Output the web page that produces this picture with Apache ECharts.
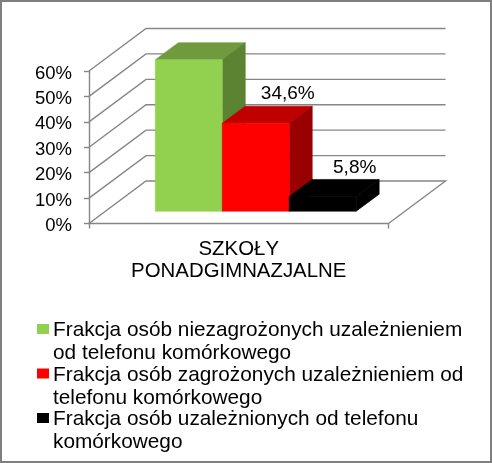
<!DOCTYPE html>
<html><head><meta charset="utf-8">
<style>html,body{margin:0;padding:0;background:#fff}#c{width:492px;height:463px}</style>
<script src="https://cdn.jsdelivr.net/npm/echarts@6/dist/echarts.min.js"></script></head>
<body><div id="c"></div>
<script>
const categories = ['SZKOŁY\nPONADGIMNAZJALNE'];
const seriesNames = [
  'Frakcja osób niezagrożonych uzależnieniem\nod telefonu komórkowego',
  'Frakcja osób zagrożonych uzależnieniem od\ntelefonu komórkowego',
  'Frakcja osób uzależnionych od telefonu\nkomórkowego'
];
const values = [59.6, 34.6, 5.8];
const valueLabels = ['', '34,6%', '5,8%'];
const ticks = [0, 10, 20, 30, 40, 50, 60];

const faces = [
  {front:'#92D050', top:'#709A3E', side:'#5B8331'},
  {front:'#FF0000', top:'#C00000', side:'#990000'},
  {front:'#000000', top:'#000000', side:'#000000'}
];
const FONT = 'Liberation Sans, Arial, sans-serif';
const AXIS = '#868686';
const WALL = [57, -42.5];
const PLANE = [17, -12.3];
const DEPTH = [23, -17];
const BAR_SHARE = 0.2235;

function wallItem(params, api) {
  const p = api.coord([0, api.value(0)]);
  const half = api.size([1, 0])[0] / 2;
  const x0 = p[0] - half, x1 = p[0] + half;
  const y = p[1];
  const pts = [[x0, y], [x0 + WALL[0], y + WALL[1]], [x1 + WALL[0], y + WALL[1]]];
  if (api.value(0) === 0) pts.push([x1, y]);
  return {type:'polyline', shape:{points:pts}, style:{stroke:AXIS, lineWidth:1.4, fill:null}, silent:true};
}

function face(points, color) {
  return {type:'polygon', shape:{points}, style:{fill:color, stroke:color, lineWidth:0.6}};
}

function barItem(idx) {
  return function (params, api) {
    const base = api.coord([0, 0]);
    const topP = api.coord([0, api.value(1)]);
    const w = api.size([1, 0])[0] * BAR_SHARE;
    const xl = base[0] + PLANE[0] + (idx - 1.5) * w;
    const xr = xl + w;
    const yb = base[1] + PLANE[1];
    const yt = topP[1] + PLANE[1];
    const dx = DEPTH[0], dy = DEPTH[1];
    const c = faces[idx];
    const children = [
      face([[xl,yt],[xr,yt],[xr+dx,yt+dy],[xl+dx,yt+dy]], c.top),
      face([[xr,yb],[xr+dx,yb+dy],[xr+dx,yt+dy],[xr,yt]], c.side),
      face([[xl,yb],[xr,yb],[xr,yt],[xl,yt]], c.front)
    ];
    if (valueLabels[idx]) {
      children.push({type:'text', style:{text:valueLabels[idx], x:(xl+xr)/2+32, y:yt-29,
        align:'center', verticalAlign:'middle', fill:'#000', font:'19px '+FONT}});
    }
    return {type:'group', children};
  };
}

const legendIcon = 'path://M0 0L0 0M0 5H12V15H0ZM0 46L0 46';
const chart = echarts.init(document.getElementById('c'), null, {renderer:'canvas'});
chart.setOption({
  animation:false,
  backgroundColor:'#fff',
  grid:{left:89, top:71, width:299.5, height:152.5, containLabel:false},
  xAxis:{type:'category', data:categories,
    axisLine:{lineStyle:{color:AXIS, width:1.4}},
    axisTick:{show:true, length:5, lineStyle:{color:AXIS, width:1.4}},
    axisLabel:{color:'#000', fontFamily:FONT, fontSize:20.4, lineHeight:22, margin:15}},
  yAxis:{type:'value', min:0, max:60, interval:10,
    axisLine:{show:true, lineStyle:{color:AXIS, width:1.4}},
    axisTick:{show:true, length:5, lineStyle:{color:AXIS, width:1.4}},
    splitLine:{show:false},
    axisLabel:{color:'#000', fontFamily:FONT, margin:17, formatter:'{t|{value}%}',
      rich:{t:{fontFamily:FONT, fontSize:18.5, color:'#000', padding:[5,0,0,0]}}}},
  legend:{orient:'vertical', left:37, top:319, itemWidth:12, itemHeight:46, itemGap:-1.5,
    itemStyle:{borderWidth:0}, selectedMode:false, padding:0,
    textStyle:{color:'#000', fontFamily:FONT, fontSize:20.8, lineHeight:23, padding:[0,0,0,-1]},
    data:seriesNames.map((name,i)=>({name, icon:legendIcon, itemStyle:{color:faces[i].front}}))},
  graphic:[{type:'rect', shape:{x:1,y:1,width:490,height:461}, style:{fill:null, stroke:'#7F7F7F', lineWidth:2}, z:100, silent:true}],
  series:[
    {type:'custom', name:'walls', coordinateSystem:'cartesian2d', renderItem:wallItem, data:ticks.map(t=>[t]), z:1, silent:true, encode:{y:0}},
    ...seriesNames.map((name,i)=>({type:'custom', name, coordinateSystem:'cartesian2d', renderItem:barItem(i),
      data:[[0, values[i]]], encode:{x:0,y:1}, itemStyle:{color:faces[i].front}, z:2+i, silent:true}))
  ]
});
</script></body></html>
